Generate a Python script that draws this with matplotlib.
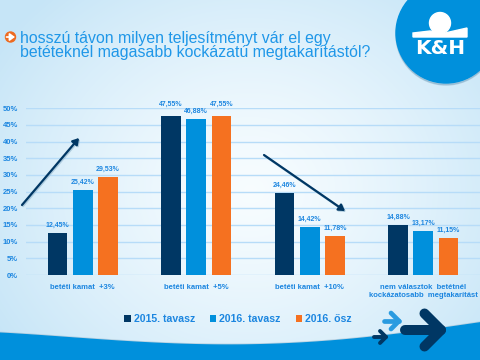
#!/usr/bin/env python3
import matplotlib

matplotlib.use("Agg")
import matplotlib.pyplot as plt
import numpy as np
from matplotlib.patches import Circle, FancyArrowPatch, Polygon

plt.rcParams["font.family"] = ["Liberation Sans", "DejaVu Sans"]

categories = [
    "betéti kamat  +3%",
    "betéti kamat  +5%",
    "betéti kamat  +10%",
    "nem választok  betétnél\nkockázatosabb  megtakarítást",
]
series_names = ["2015. tavasz", "2016. tavasz", "2016. ősz"]
spring_2015 = [12.45, 47.55, 24.46, 14.88]
spring_2016 = [25.42, 46.88, 14.42, 13.17]
autumn_2016 = [29.53, 47.55, 11.78, 11.15]
y_ticks = [0, 5, 10, 15, 20, 25, 30, 35, 40, 45, 50]

NAVY = "#003764"
BLUE = "#0090dc"
ORANGE = "#f57120"
LABEL = "#1c86e0"
TITLE = "#1f97e8"
W, H = 480, 360

fig = plt.figure(figsize=(W / 100, H / 100), dpi=100)

# background layer works in pixels, y pointing down
bg = fig.add_axes([0, 0, 1, 1], zorder=0)
bg.set_xlim(0, W)
bg.set_ylim(H, 0)
bg.axis("off")

yy, xx = np.mgrid[0:H, 0:W]
dist = np.sqrt(((xx - 250) / 300.0) ** 2 + ((yy - 190) / 260.0) ** 2)
dist = np.clip(dist, 0, 1)
light = np.array([0.97, 0.99, 1.0])
edge = np.array([0.78, 0.90, 0.97])
grad = light + (edge - light) * dist[..., None] ** 1.3
bg.imshow(grad, extent=(0, W, H, 0), aspect="auto", zorder=0)

# bottom swoosh, smooth curve through a few read-off points
knot_x = [0, 60, 120, 180, 240, 300, 360, 420, 480]
knot_y = [333, 337.5, 341, 344, 345, 343.5, 338.5, 331, 323]
sx = np.arange(0, W + 1, 4)
sy = np.polyval(np.polyfit(knot_x, knot_y, 4), sx)
bg.plot(sx, sy - 0.8, color="#a9c4d6", lw=1.0, alpha=0.7, zorder=1)
bg.add_patch(Polygon(list(zip(sx, sy)) + [(W, H), (0, H)], color=BLUE, zorder=1))

# logo
bg.add_patch(Circle((446, 35), 50, color="#7fa9c4", alpha=0.5, zorder=2))
bg.add_patch(Circle((446, 33), 50, color=BLUE, zorder=3))
bg.add_patch(Circle((440, 23), 10.5, color="white", zorder=4))
bg.add_patch(Polygon([(413, 33), (430, 31), (445, 33), (467, 28), (467, 37), (413, 37)], color="white", zorder=4))
bg.text(440, 48.5, "K&H", color="white", fontsize=14.5, fontweight="bold", ha="center", va="center", zorder=4,
        family=["DejaVu Sans"])

# title and bullet
bg.add_patch(Circle((10.5, 37), 5, color="#ee6a1f", zorder=4))
bg.annotate("", xy=(15, 37), xytext=(6.5, 37), zorder=5,
            arrowprops={"arrowstyle": "-|>,head_width=0.22,head_length=0.3", "color": "white", "lw": 1.2,
                        "shrinkA": 0, "shrinkB": 0})
bg.text(20, 38, "hosszú távon milyen teljesítményt vár el egy", color=TITLE, fontsize=11.4, va="center", zorder=4)
bg.text(20, 52, "betéteknél magasabb kockázatú megtakarítástól?", color=TITLE, fontsize=11.4, va="center", zorder=4)

# chart
ax = fig.add_axes([26 / W, 1 - 275 / H, (W - 26) / W, (275 - 108.3) / H], zorder=2)
ax.patch.set_alpha(0)
ax.set_xlim(-0.5, 3.5)
ax.set_ylim(0, 50)
for spine in ax.spines.values():
    spine.set_visible(False)
ax.set_axisbelow(True)
ax.grid(axis="y", color="#b7dcf8", linewidth=1.0)
ax.set_yticks(y_ticks)
ax.set_yticklabels([f"{v}%" for v in y_ticks], color=LABEL, fontsize=5.5, fontweight="bold")
ax.tick_params(axis="y", length=0, pad=5.8)
ax.tick_params(axis="x", length=0, pad=6.5)
ax.set_xticks(range(len(categories)))
ax.set_xticklabels(categories, color=LABEL, fontsize=5.5, fontweight="bold", linespacing=1.25)

x = np.arange(len(categories))
offset = 0.223
width = 0.175
handles = []
for i, (vals, color, name) in enumerate(zip([spring_2015, spring_2016, autumn_2016], [NAVY, BLUE, ORANGE], series_names)):
    bars = ax.bar(x + (i - 1) * offset, vals, width=width, color=color, label=name, zorder=3)
    handles.append(bars)
    for rect, v in zip(bars, vals):
        # the two 47,55 labels sit higher in the original
        lift = 6.5 if v > 47.5 else 3
        ax.annotate(f"{v:.2f}%".replace(".", ","), (rect.get_x() + rect.get_width() / 2, v), xytext=(0, lift),
                    textcoords="offset points", ha="center", va="bottom", color=LABEL, fontsize=5.0,
                    fontweight="bold", zorder=4)

fig.legend(handles=handles, loc="center left", bbox_to_anchor=(119 / W, 1 - 319 / H), ncol=3, frameon=False,
           handlelength=0.6, handleheight=0.6, handletextpad=0.28, columnspacing=1.43, borderpad=0,
           labelcolor=LABEL, prop={"size": 7.6, "weight": "bold"})

# overlay for arrows, back in pixels
top = fig.add_axes([0, 0, 1, 1], zorder=3)
top.set_xlim(0, W)
top.set_ylim(H, 0)
top.axis("off")
top.patch.set_alpha(0)
for start, end in [((22, 205), (79, 138)), ((264, 155), (345, 211))]:
    top.add_patch(FancyArrowPatch((start[0] + 1, start[1] + 1), (end[0] + 1, end[1] + 1),
                                  arrowstyle="-|>,head_width=2.2,head_length=3.5",
                                  color="#8fb4cc", lw=1.6, alpha=0.6, shrinkA=0, shrinkB=0))
    top.add_patch(FancyArrowPatch(start, end, arrowstyle="-|>,head_width=2.2,head_length=3.5", color=NAVY, lw=1.6,
                                  shrinkA=0, shrinkB=0))


def chevron(tip, tail, arm, lw, color):
    tx, ty = tip
    top.plot([tail, tx], [ty, ty], color=color, lw=lw, solid_capstyle="round")
    top.plot([tx - arm, tx, tx - arm], [ty - arm, ty, ty + arm], color=color, lw=lw, solid_capstyle="round",
             solid_joinstyle="round")


chevron((399, 321), 384, 8, 3.4, "#2a9be0")
chevron((386, 337), 374, 6, 2.8, NAVY)
chevron((441, 330), 405, 16.5, 7.2, NAVY)

fig.savefig("out.png", dpi=100)
